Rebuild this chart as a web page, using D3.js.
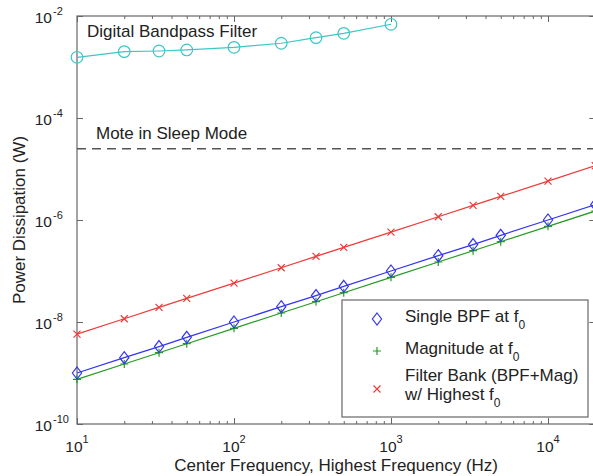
<!DOCTYPE html>
<html>
<head>
<meta charset="utf-8">
<script src="https://cdn.jsdelivr.net/npm/d3@7"></script>
<style>
  body { margin: 0; background: #fff; }
  svg { display: block; }
  text { font-family: "Liberation Sans", Arial, Helvetica, sans-serif; fill: #222; }
</style>
</head>
<body>
<svg id="chart" width="593" height="476"></svg>
<script>
// ---------- data ----------
const freqs = [10, 20, 33.3, 50, 100, 200, 333, 500, 1000, 2000, 3333, 5000, 10000, 20000];
const singleBPF = [1.0e-9, 2.0e-9, 3.3e-9, 5.0e-9, 1.0e-8, 2.0e-8, 3.3e-8, 5.0e-8, 1.0e-7, 2.0e-7, 3.3e-7, 5.0e-7, 1.0e-6, 2.0e-6];
const magnitude = [7.5e-10, 1.5e-9, 2.5e-9, 3.75e-9, 7.5e-9, 1.5e-8, 2.5e-8, 3.75e-8, 7.5e-8, 1.5e-7, 2.5e-7, 3.75e-7, 7.5e-7, 1.5e-6];
const filterBank = [5.8e-9, 1.16e-8, 1.93e-8, 2.9e-8, 5.8e-8, 1.16e-7, 1.93e-7, 2.9e-7, 5.8e-7, 1.16e-6, 1.93e-6, 2.9e-6, 5.8e-6, 1.16e-5];
const digitalFreqs = [10, 20, 33.3, 50, 100, 200, 333, 500, 1000];
const digitalBPF = [1.55e-3, 2.0e-3, 2.06e-3, 2.16e-3, 2.43e-3, 2.92e-3, 3.76e-3, 4.57e-3, 6.88e-3];
const sleepMode = 2.5e-5;
const xMajorTicks = [10, 100, 1000, 10000];
const xTickExp = ["1", "2", "3", "4"];
const yMajorTicks = [1e-10, 1e-8, 1e-6, 1e-4, 1e-2];
const yTickExp = ["-10", "-8", "-6", "-4", "-2"];
const legendLabels = [["Single BPF at f", "0"], ["Magnitude at f", "0"], ["Filter Bank (BPF+Mag)", "w/ Highest f", "0"]];

// ---------- layout ----------
const L = 77, T = 16, B = 424;
const R = L + 157 * Math.log10(2000);
const svg = d3.select("#chart");
const x = d3.scaleLog().domain([10, 20000]).range([L, R]);
const y = d3.scaleLog().domain([1e-10, 1e-2]).range([B, T]);

const cBlue = "#3434f0", cGreen = "#249a24", cRed = "#f03a3a", cCyan = "#3ec6c6", cAxis = "#666";

svg.append("defs").append("clipPath").attr("id", "clip")
  .append("rect").attr("x", L - 8).attr("y", T - 8).attr("width", R - L + 16).attr("height", B - T + 16);

// minor x ticks
const minor = [];
for (let d = 10; d < 20000; d *= 10) for (let k = 2; k <= 9; k++) if (d * k <= 20000) minor.push(d * k);

const gx = svg.append("g").attr("transform", `translate(0,${B})`);
gx.call(d3.axisBottom(x).tickValues(minor).tickSize(-3).tickFormat(""));
gx.append("g").call(d3.axisBottom(x).tickValues(xMajorTicks).tickSize(-6).tickFormat(""));
const gxt = svg.append("g").attr("transform", `translate(0,${T})`);
gxt.call(d3.axisTop(x).tickValues(minor).tickSize(-3).tickFormat(""));
gxt.append("g").call(d3.axisTop(x).tickValues(xMajorTicks).tickSize(-6).tickFormat(""));
svg.append("g").attr("transform", `translate(${L},0)`)
  .call(d3.axisLeft(y).tickValues(yMajorTicks).tickSize(-6).tickFormat(""));
svg.append("g").attr("transform", `translate(${R},0)`)
  .call(d3.axisRight(y).tickValues(yMajorTicks).tickSize(-6).tickFormat(""));
svg.selectAll(".domain").remove();
svg.selectAll(".tick line").attr("stroke", cAxis).attr("stroke-width", 1);

// frame
svg.append("rect").attr("x", L).attr("y", T).attr("width", R - L).attr("height", B - T)
  .attr("fill", "none").attr("stroke", cAxis).attr("stroke-width", 1.2);

// x tick labels
xMajorTicks.forEach((v, i) => {
  const t = svg.append("text").attr("x", x(v)).attr("y", B + 28).attr("text-anchor", "middle")
    .attr("font-size", 15.5);
  t.append("tspan").text("10");
  t.append("tspan").attr("dy", -9).attr("font-size", 11).text(xTickExp[i]);
});
// y tick labels
yMajorTicks.forEach((v, i) => {
  svg.append("text").attr("x", 52).attr("y", y(v) + 7).attr("text-anchor", "end")
    .attr("font-size", 15.5).text("10");
  svg.append("text").attr("x", 53).attr("y", y(v) - 1).attr("text-anchor", "start")
    .attr("font-size", 11).text(yTickExp[i]);
});

// axis labels
svg.append("text").attr("x", (L + R) / 2).attr("y", 471).attr("text-anchor", "middle")
  .attr("font-size", 17).text("Center Frequency, Highest Frequency (Hz)");
svg.append("text").attr("transform", `translate(25,${(T + B) / 2}) rotate(-90)`)
  .attr("text-anchor", "middle").attr("font-size", 17).text("Power Dissipation (W)");

// plot content
const plot = svg.append("g").attr("clip-path", "url(#clip)");

// sleep mode dashed line
plot.append("line").attr("x1", L).attr("x2", R).attr("y1", y(sleepMode)).attr("y2", y(sleepMode))
  .attr("stroke", "#555").attr("stroke-width", 1.4).attr("stroke-dasharray", "9,6");

const line = d3.line().x(d => x(d[0])).y(d => y(d[1]));
function series(xs, ys, color, marker) {
  const pts = xs.map((f, i) => [f, ys[i]]);
  plot.append("path").datum(pts).attr("d", line).attr("fill", "none")
    .attr("stroke", color).attr("stroke-width", 1.2);
  plot.selectAll(null).data(pts).enter().append("path")
    .attr("transform", d => `translate(${x(d[0])},${y(d[1])})`)
    .attr("d", marker).attr("fill", "none").attr("stroke", color).attr("stroke-width", 1.2);
}
const diamond = "M0,-6L4.6,0L0,6L-4.6,0Z";
const plus = "M-4,0H4M0,-4V4";
const cross = "M-3.5,-3.5L3.5,3.5M-3.5,3.5L3.5,-3.5";
const circle = d3.symbol().type(d3.symbolCircle).size(Math.PI * 5.8 * 5.8)();

series(freqs, filterBank, cRed, cross);
series(freqs, magnitude, cGreen, plus);
series(freqs, singleBPF, cBlue, diamond);
series(digitalFreqs, digitalBPF, cCyan, circle);

// annotations
svg.append("text").attr("x", 87).attr("y", 37).attr("font-size", 17).text("Digital Bandpass Filter");
svg.append("text").attr("x", 96).attr("y", 139).attr("font-size", 17).text("Mote in Sleep Mode");

// legend
const lg = svg.append("g");
lg.append("rect").attr("x", 342).attr("y", 300).attr("width", 246).attr("height", 117)
  .attr("fill", "#fff").attr("stroke", cAxis).attr("stroke-width", 1.2);
const legendColors = [cBlue, cGreen, cRed];
const legendMarkers = [diamond, plus, cross];
const markerY = [319, 351, 389];
legendMarkers.forEach((m, i) => {
  lg.append("path").attr("transform", `translate(377,${markerY[i]})`).attr("d", m)
    .attr("fill", "none").attr("stroke", legendColors[i]).attr("stroke-width", 1.2);
});
function legendText(xp, yp, main, sub) {
  const t = lg.append("text").attr("x", xp).attr("y", yp).attr("font-size", 17);
  t.append("tspan").text(main);
  if (sub) t.append("tspan").attr("dy", 7).attr("font-size", 12).text(sub);
}
legendText(405, 322, legendLabels[0][0], legendLabels[0][1]);
legendText(405, 354, legendLabels[1][0], legendLabels[1][1]);
legendText(405, 381, legendLabels[2][0]);
legendText(405, 400, legendLabels[2][1], legendLabels[2][2]);
</script>
</body>
</html>
